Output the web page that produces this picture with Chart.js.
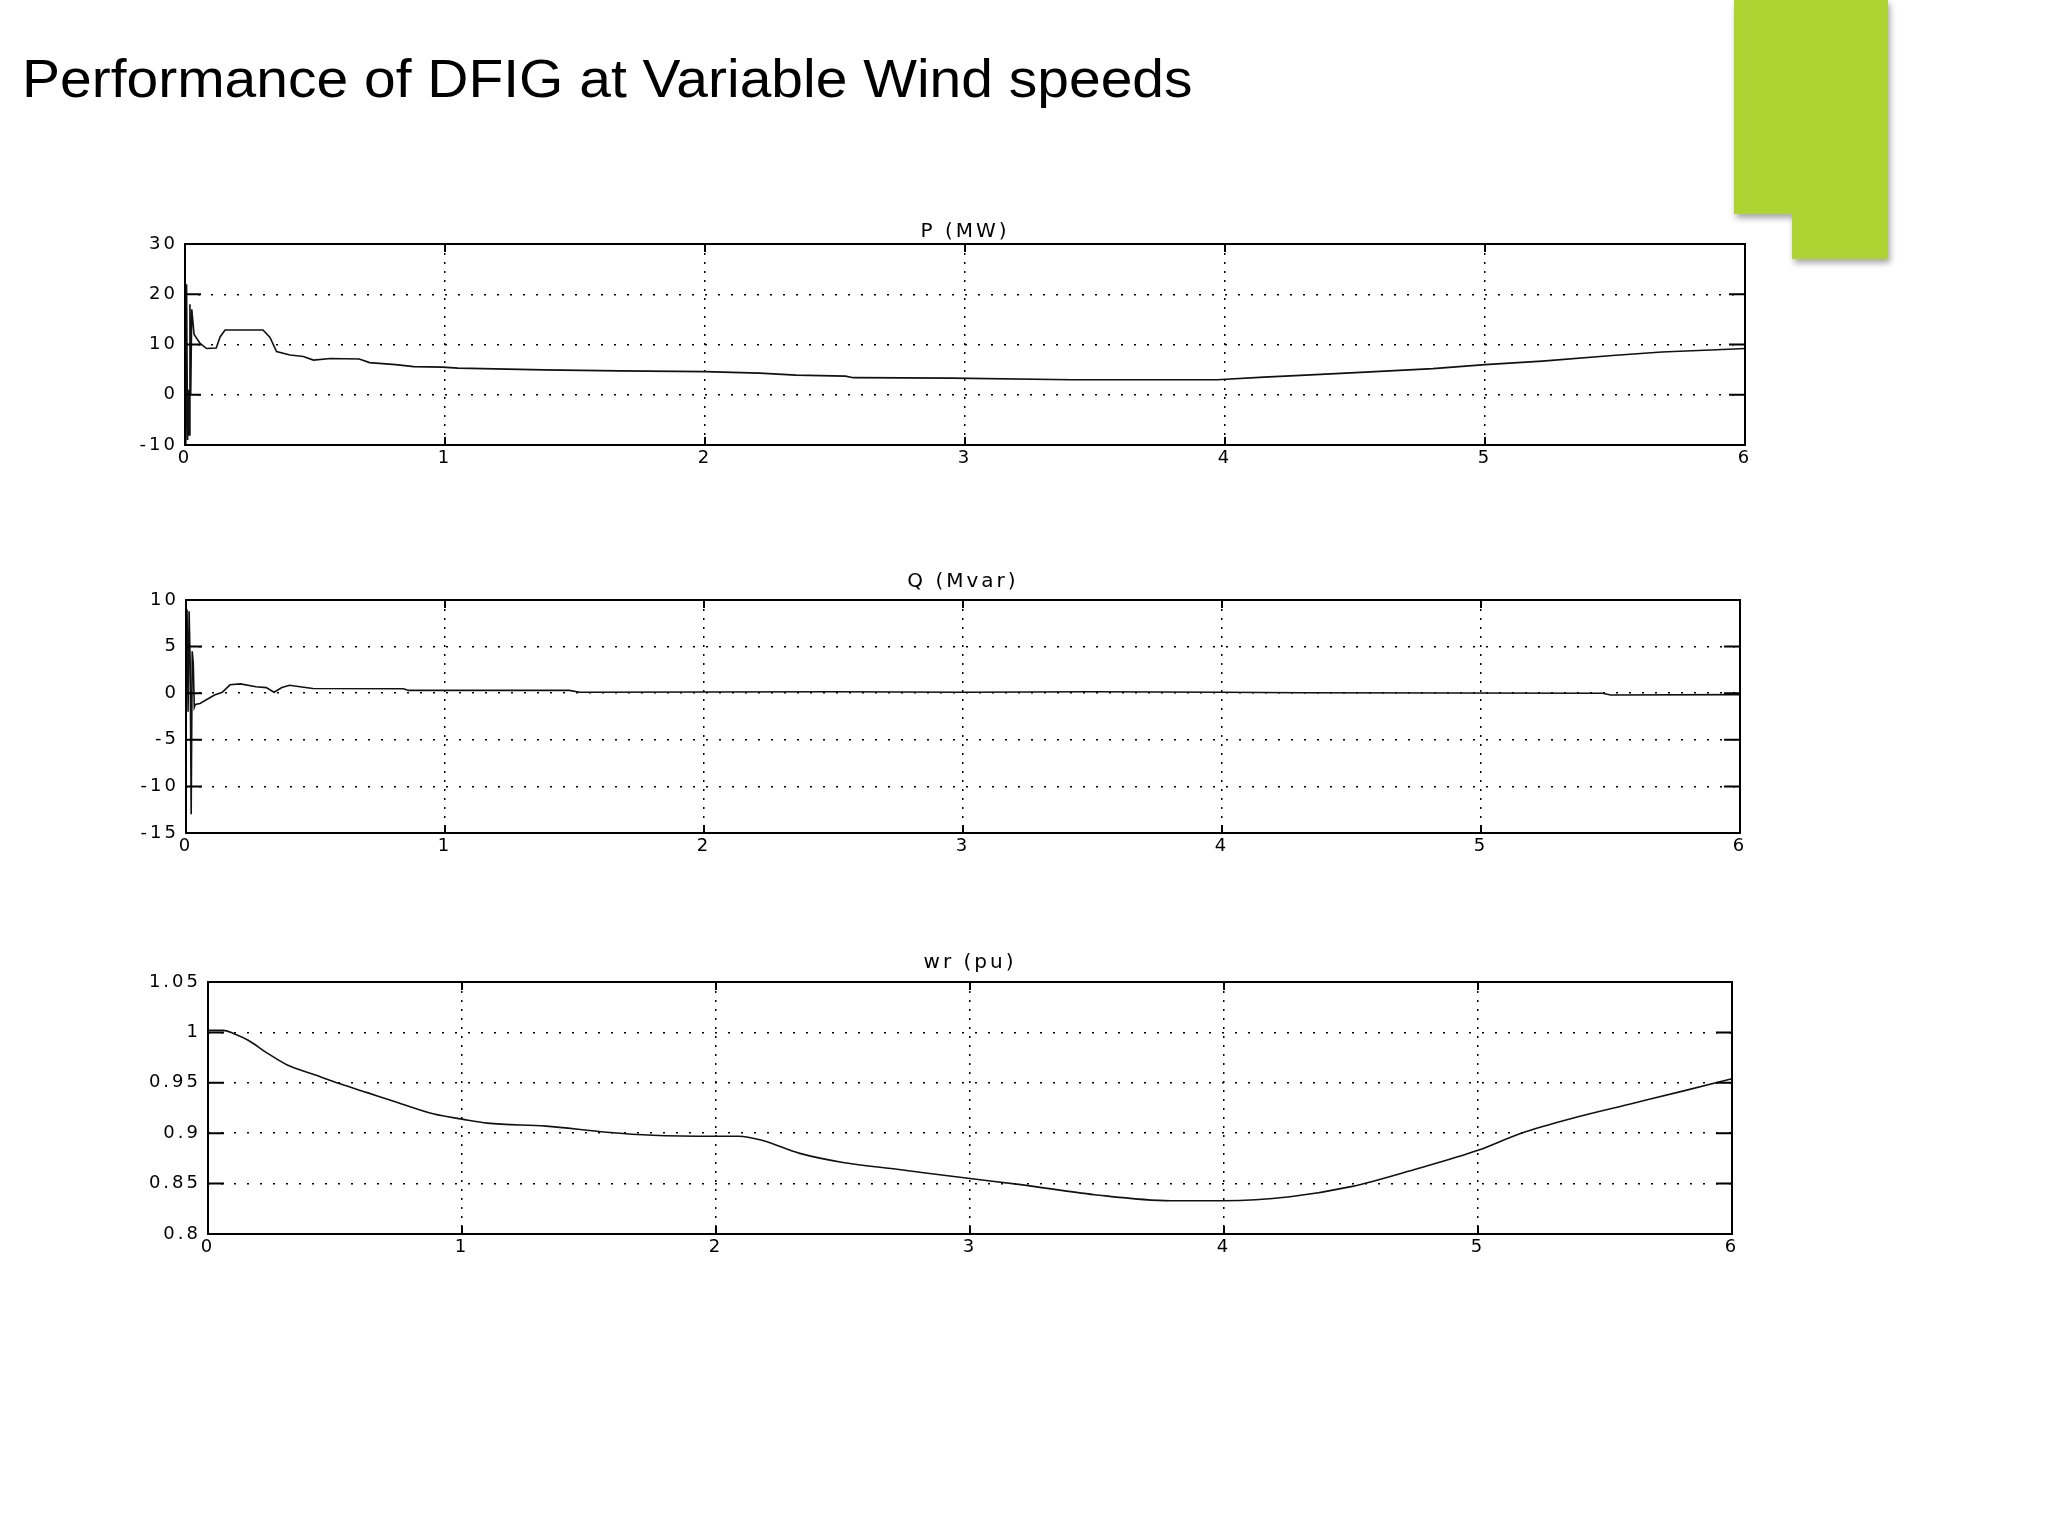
<!DOCTYPE html>
<html>
<head>
<meta charset="utf-8">
<title>Performance of DFIG at Variable Wind speeds</title>
<script src="https://cdn.jsdelivr.net/npm/chart.js@4.4.1/dist/chart.umd.min.js"></script>
<style>
  html, body { margin: 0; padding: 0; background: #fff; }
  #page { position: relative; width: 2048px; height: 1536px; overflow: hidden; background: #fff; }
  h1 {
    position: absolute; left: 22px; top: 51px; margin: 0;
    font: normal 54px/1 "Liberation Sans", Arial, sans-serif; color: #000; white-space: nowrap;
    transform: scaleX(1.055); transform-origin: 0 0;
  }
  .tab { position: absolute; left: 1734px; top: 0; width: 154px; height: 259px; filter: drop-shadow(2px 4px 3px rgba(0,0,0,0.35)); }
  .tab div { position: absolute; background: #aed434; }
  .tab .upper { left: 0; top: 0; width: 154px; height: 214px; }
  .tab .lower { left: 58px; top: 214px; width: 96px; height: 45px; }
  canvas { position: absolute; }
  #pChart { left: 115px; top: 218px; }
  #qChart { left: 116px; top: 568px; }
  #wrChart { left: 138px; top: 949px; }
</style>
</head>
<body>
<div id="page">
  <h1>Performance of DFIG at Variable Wind speeds</h1>
  <div class="tab"><div class="upper"></div><div class="lower"></div></div>
  <canvas id="pChart" width="1650" height="257"></canvas>
  <canvas id="qChart" width="1644" height="295"></canvas>
  <canvas id="wrChart" width="1614" height="315"></canvas>
</div>
<script>
// time axis (s)
const xTicks = [0, 1, 2, 3, 4, 5, 6];
const xTickLabels = ["0", "1", "2", "3", "4", "5", "6"];

// P (MW)
const pTicks = [-10, 0, 10, 20, 30];
const pTickLabels = ["-10", "0", "10", "20", "30"];
const pTime = [0, 0.003, 0.006, 0.01, 0.013, 0.016, 0.019, 0.022, 0.026, 0.035,
  0.058, 0.083, 0.12, 0.135, 0.154, 0.30, 0.327, 0.352, 0.404, 0.455,
  0.494, 0.56, 0.67, 0.71, 0.81, 0.88, 0.99, 1.05, 1.38, 1.67,
  2.0, 2.21, 2.35, 2.54, 2.57, 2.95, 3.41, 3.97, 4.15, 4.31,
  4.54, 4.80, 5.0, 5.22, 5.49, 5.68, 5.96, 6.0];
const pValues = [0, -10, 22, -9, 1, -8, 18, 0, 17, 12,
  10.2, 9.2, 9.3, 11.5, 12.9, 12.9, 11.4, 8.6, 7.9, 7.6,
  6.9, 7.2, 7.1, 6.4, 6.0, 5.6, 5.5, 5.3, 4.95, 4.75,
  4.6, 4.3, 3.9, 3.7, 3.4, 3.3, 3.0, 3.0, 3.5, 3.9,
  4.5, 5.2, 6.0, 6.7, 7.8, 8.5, 9.1, 9.2];

// Q (Mvar)
const qTicks = [-15, -10, -5, 0, 5, 10];
const qTickLabels = ["-15", "-10", "-5", "0", "5", "10"];
const qTime = [0, 0.004, 0.008, 0.012, 0.016, 0.020, 0.024, 0.028, 0.032, 0.036,
  0.054, 0.11, 0.14, 0.17, 0.21, 0.27, 0.31, 0.34, 0.37, 0.40,
  0.44, 0.49, 0.84, 0.86, 1.48, 1.52, 2.5, 3.0, 3.5, 4.0,
  4.3, 5.47, 5.5, 6.0];
const qValues = [0, 9, -2, 8.8, 3.5, -13, 4.5, 3.3, -1.5, -1.2,
  -1.1, -0.2, 0.1, 0.9, 1.0, 0.7, 0.6, 0.1, 0.6, 0.85,
  0.7, 0.5, 0.47, 0.3, 0.3, 0.1, 0.15, 0.1, 0.15, 0.1,
  0.05, 0, -0.2, -0.15];

// wr (pu)
const wrTicks = [0.8, 0.85, 0.9, 0.95, 1, 1.05];
const wrTickLabels = ["0.8", "0.85", "0.9", "0.95", "1", "1.05"];
const wrTime = [0, 0.06, 0.10, 0.16, 0.23, 0.31, 0.42, 0.52, 0.63, 0.74,
  0.89, 1.0, 1.10, 1.33, 1.57, 1.75, 2.0, 2.09, 2.18, 2.33,
  2.50, 2.72, 3.0, 3.20, 3.49, 3.79, 4.0, 4.26, 4.50, 4.75,
  5.0, 5.17, 5.39, 5.60, 5.81, 6.0];
const wrValues = [1.002, 1.002, 0.999, 0.992, 0.980, 0.968, 0.958, 0.949, 0.940, 0.931,
  0.919, 0.914, 0.910, 0.907, 0.901, 0.898, 0.897, 0.897, 0.893, 0.880,
  0.871, 0.864, 0.855, 0.849, 0.839, 0.833, 0.833, 0.837, 0.847, 0.864,
  0.883, 0.900, 0.916, 0.929, 0.942, 0.954];

const axisFont = { family: "'DejaVu Sans', sans-serif", size: 18, lineHeight: 1.2 };
const titleFont = { family: "'DejaVu Sans', sans-serif", size: 20, weight: "normal", lineHeight: 1.0 };

// the old MATLAB figure font is very wide, so space the letters out
const wideText = {
  id: "wideText",
  beforeInit(chart) { chart.ctx.letterSpacing = "3px"; },
  beforeDraw(chart) { chart.ctx.letterSpacing = "3px"; }
};

// MATLAB style frame with inward ticks on all four sides
const axesBox = {
  id: "axesBox",
  afterDatasetsDraw(chart) {
    const { ctx, chartArea: a, scales: { x, y } } = chart;
    ctx.save();
    ctx.strokeStyle = "#000";
    ctx.lineWidth = 2;
    ctx.strokeRect(a.left, a.top, a.width, a.height);
    ctx.beginPath();
    x.ticks.forEach((t) => {
      const px = x.getPixelForValue(t.value);
      ctx.moveTo(px, a.bottom); ctx.lineTo(px, a.bottom - 8);
      ctx.moveTo(px, a.top); ctx.lineTo(px, a.top + 8);
    });
    y.ticks.forEach((t) => {
      const py = y.getPixelForValue(t.value);
      ctx.moveTo(a.left, py); ctx.lineTo(a.left + 16, py);
      ctx.moveTo(a.right, py); ctx.lineTo(a.right - 16, py);
    });
    ctx.stroke();
    ctx.restore();
  }
};

const makeChart = (id, cfg) => new Chart(document.getElementById(id), {
  type: "line",
  data: {
    datasets: [{
      data: cfg.time.map((t, i) => ({ x: t, y: cfg.values[i] })),
      borderColor: "#111",
      borderWidth: 1.6,
      pointRadius: 0,
      tension: 0,
      cubicInterpolationMode: cfg.smooth ? "monotone" : "default"
    }]
  },
  options: {
    responsive: false,
    animation: false,
    devicePixelRatio: 1,
    layout: { padding: { top: 4, right: 20, bottom: 0, left: 0 } },
    plugins: {
      legend: { display: false },
      tooltip: { enabled: false },
      title: {
        display: true,
        text: cfg.title,
        fullSize: false,
        color: "#000",
        font: titleFont,
        padding: { top: 0, bottom: cfg.titleGap }
      }
    },
    scales: {
      x: {
        type: "linear",
        min: 0,
        max: 6,
        afterBuildTicks: (s) => { s.ticks = xTicks.map((v) => ({ value: v })); },
        afterFit: (s) => { s.height = 30; },
        ticks: { color: "#000", font: axisFont, padding: 3, maxRotation: 0, autoSkip: false,
          callback: (v, i) => xTickLabels[i] },
        grid: { color: "#000", lineWidth: 1.5, drawTicks: false },
        border: { display: false, dash: [2, 7] }
      },
      y: {
        type: "linear",
        min: cfg.ticks[0],
        max: cfg.ticks[cfg.ticks.length - 1],
        afterBuildTicks: (s) => { s.ticks = cfg.ticks.map((v) => ({ value: v })); },
        afterFit: (s) => { s.width = 70; },
        ticks: { color: "#000", font: axisFont, padding: 7, autoSkip: false,
          callback: (v, i) => cfg.labels[i] },
        grid: { color: "#000", lineWidth: 1.5, drawTicks: false },
        border: { display: false, dash: [2, 11] }
      }
    }
  },
  plugins: [wideText, axesBox]
});

makeChart("pChart", { title: "P (MW)", titleGap: 2, time: pTime, values: pValues, ticks: pTicks, labels: pTickLabels });
makeChart("qChart", { title: "Q (Mvar)", titleGap: 8, time: qTime, values: qValues, ticks: qTicks, labels: qTickLabels });
makeChart("wrChart", { title: "wr (pu)", titleGap: 9, time: wrTime, values: wrValues, ticks: wrTicks, labels: wrTickLabels, smooth: true });
</script>
</body>
</html>
